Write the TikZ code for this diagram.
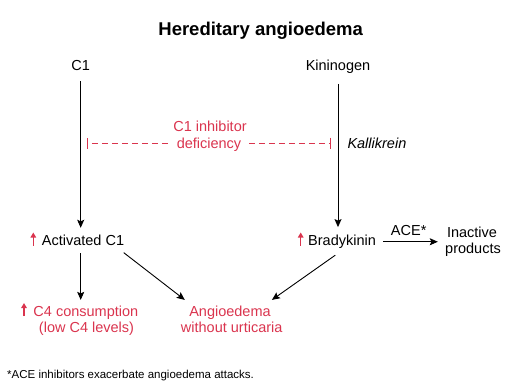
\documentclass[tikz,border=0pt]{standalone}
\usepackage{fontspec}
\setmainfont{Liberation Sans}
\usetikzlibrary{arrows.meta}
\definecolor{hred}{RGB}{218,52,78}
\begin{document}
\begin{tikzpicture}[x=1pt,y=-1pt,
  lbl/.style={font=\fontsize{14.5}{17}\selectfont, inner sep=0pt, anchor=base},
  lblw/.style={lbl, anchor=base west},
  rlbl/.style={lbl, text=hred},
  arr/.style={-{Stealth[length=8pt,width=7pt,inset=1.5pt]}, line width=0.9pt},
  uparr/.style={hred, line width=1.4pt, -{Triangle[length=5pt,width=5.5pt]}},
  dsh/.style={hred, line width=0.8pt, dash pattern=on 6pt off 4pt},
]
\useasboundingbox (0,0) rectangle (520,386);
\node[font=\fontsize{18.5}{22}\selectfont\bfseries, inner sep=0pt, anchor=base] (title) at (260.7,35) {Hereditary angioedema};

\node[lbl] (c1) at (80.7,70.7) {C1};
\node[lbl] (kin) at (338,70.7) {Kininogen};

\node[rlbl] (inh1) at (210,131.7) {C1 inhibitor};
\node[rlbl] (inh2) at (209,148.3) {deficiency};
\node[lblw, font=\fontsize{14.5}{17}\selectfont\itshape] (kal) at (347.3,148.5) {Kallikrein};

\node[lblw] (ac1) at (41.7,245.5) {Activated C1};
\node[lblw] (brady) at (308,245.5) {Bradykinin};
\node[lbl] (ace) at (408.7,235) {ACE*};
\node[lbl] (ina1) at (472,237.3) {Inactive};
\node[lbl] (ina2) at (473,253.5) {products};

\node[lblw, text=hred] (c4a) at (33.3,316) {C4 consumption};
\node[rlbl] (c4b) at (86.5,332.5) {(low C4 levels)};
\node[rlbl] (ang1) at (230,316) {Angioedema};
\node[rlbl] (ang2) at (231.7,332.5) {without urticaria};

\node[lblw, font=\fontsize{11.5}{14}\selectfont] (foot) at (7,378.3) {*ACE inhibitors exacerbate angioedema attacks.};

% red up arrows
\draw[uparr] ([xshift=-8.4pt]ac1.base west) -- ([xshift=-8.4pt,yshift=13pt]ac1.base west);
\draw[uparr] ([xshift=-7.3pt]brady.base west) -- ([xshift=-7.3pt,yshift=13pt]brady.base west);
\draw[uparr] ([xshift=-9.3pt]c4a.base west) -- ([xshift=-9.3pt,yshift=13pt]c4a.base west);

% vertical arrows
\draw[arr] ([yshift=-10pt]c1.south) -- ([yshift=7pt]c1.south |- ac1.north);
\draw[arr] ([yshift=-10pt]kin.south) -- ([yshift=7.7pt]kin.south |- brady.north);
\draw[arr] ([yshift=-7.5pt]c1.south |- ac1.south) -- ([yshift=5.4pt]c1.south |- c4a.north);

% diagonals
\draw[arr] ([xshift=-0.6pt,yshift=-6.8pt]ac1.south east) -- ([xshift=-4.3pt,yshift=5.4pt]ang1.north west);
\draw[arr] ([xshift=-6.8pt,yshift=-6.5pt]brady.south) -- ([xshift=1pt,yshift=5.4pt]ang1.north east);

% ACE arrow
\draw[arr] ([xshift=7pt]brady.east) -- ([xshift=-9pt]brady.east -| ina1.west);

% inhibitor dashed line
\coordinate (barL) at (87.3,143.3);
\coordinate (barR) at (330.7,143.3);
\draw[dsh, dash phase=6pt, {Bar[width=11.3pt,line width=0.9pt]}-] (barL) -- ([xshift=-9pt]barL -| inh2.west);
\draw[dsh, -{Bar[width=11.3pt,line width=0.9pt]}] ([xshift=8pt]barR -| inh2.east) -- (barR);
\end{tikzpicture}
\end{document}
